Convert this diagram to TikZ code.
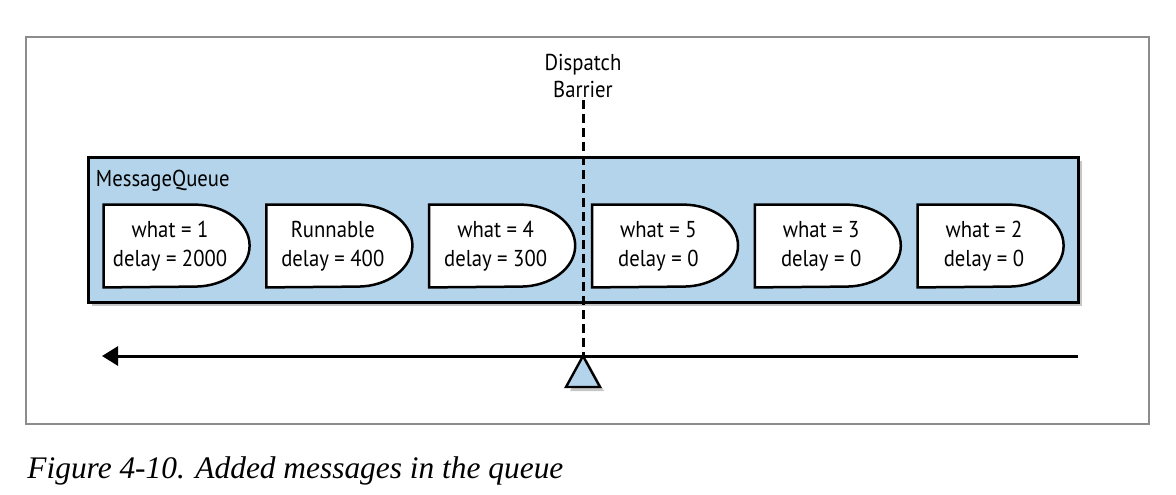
\documentclass[tikz,border=0pt]{standalone}
\usepackage{fontspec}
\setmainfont{PT Sans}[FakeStretch=0.9]
\newfontfamily\captionfont{Liberation Serif}
\usetikzlibrary{positioning,shadows,arrows.meta}
\definecolor{queueblue}{RGB}{179,212,234}
\definecolor{framegray}{RGB}{140,140,140}
\pgfdeclarelayer{bg}
\pgfsetlayers{bg,main}
\tikzset{msg node/.style={minimum width=66pt,minimum height=41pt,inner sep=0pt,align=center,font=\fontsize{11.5}{14.5}\selectfont},
msg shape/.style={draw,fill=white,line width=1.25pt},
queue box/.style={draw,fill=queueblue,line width=1.5pt,minimum width=495pt,minimum height=72.5pt,
  drop shadow={shadow xshift=2pt,shadow yshift=-2pt,opacity=0.45}},
frame line/.style={draw=framegray,line width=1pt},
barrier line/.style={line width=1.5pt,dash pattern=on 4.5pt off 2.5pt},
flow arrow/.style={line width=1.5pt,-{Triangle[length=8pt,width=9.5pt]}},
pivot/.style={draw,fill=queueblue,line width=1.2pt,
  drop shadow={shadow xshift=2pt,shadow yshift=-2pt,opacity=0.45}},
}

\begin{document}
\begin{tikzpicture}[x=0.5pt,y=0.5pt]
\useasboundingbox (0,0) rectangle (1176,-494);

%% frame and caption
\draw[frame line] (26,-37) rectangle (1149,-424);
\node[anchor=base west,inner sep=0pt,font=\captionfont\itshape\fontsize{15.7}{18}\selectfont] (caption) at (27,-478) {Figure 4-10. Added messages in the queue};

%% queue
\begin{pgfonlayer}{bg}
\node[queue box] (queue) at (583,-229.5) {};
\end{pgfonlayer}
\node[anchor=base west,inner sep=0pt,font=\fontsize{11.5}{14}\selectfont] (qlabel) at ([shift={(9,-31)}]queue.north west) {MessageQueue};

\node[msg node] (1) at (170,-246) {what = 1\\delay = 2000};
\node[msg node] (2) [right = 15pt of 1] {Runnable\\delay = 400};
\node[msg node] (3) [right = 15pt of 2] {what = 4\\delay = 300};
\node[msg node] (4) [right = 15pt of 3] {what = 5\\delay = 0};
\node[msg node] (5) [right = 15pt of 4] {what = 3\\delay = 0};
\node[msg node] (6) [right = 15pt of 5] {what = 2\\delay = 0};

\begin{pgfonlayer}{bg}
\foreach \n in {1,...,6}
  \draw[msg shape] (\n.north west) -- ++(91,0)
    arc[start angle=90,end angle=-90,x radius=27.5pt,y radius=20.5pt]
    -- (\n.south west) -- cycle;
\end{pgfonlayer}

%% time line
\coordinate (tail) at (1078,-356);
\coordinate (head) at (102,-356);
\coordinate (apex) at (583,-356);
\draw[flow arrow] (tail) -- (head);

%% barrier
\node[anchor=south,inner sep=1pt,align=center,font=\fontsize{11.5}{13.5}\selectfont] (barrier) at (583,-100) {Dispatch\\Barrier};
\draw[barrier line] (barrier.south) -- (apex);
\draw[pivot] (apex) -- ++(17,-31) -- ++(-34,0) -- cycle;
\end{tikzpicture}
\end{document}
